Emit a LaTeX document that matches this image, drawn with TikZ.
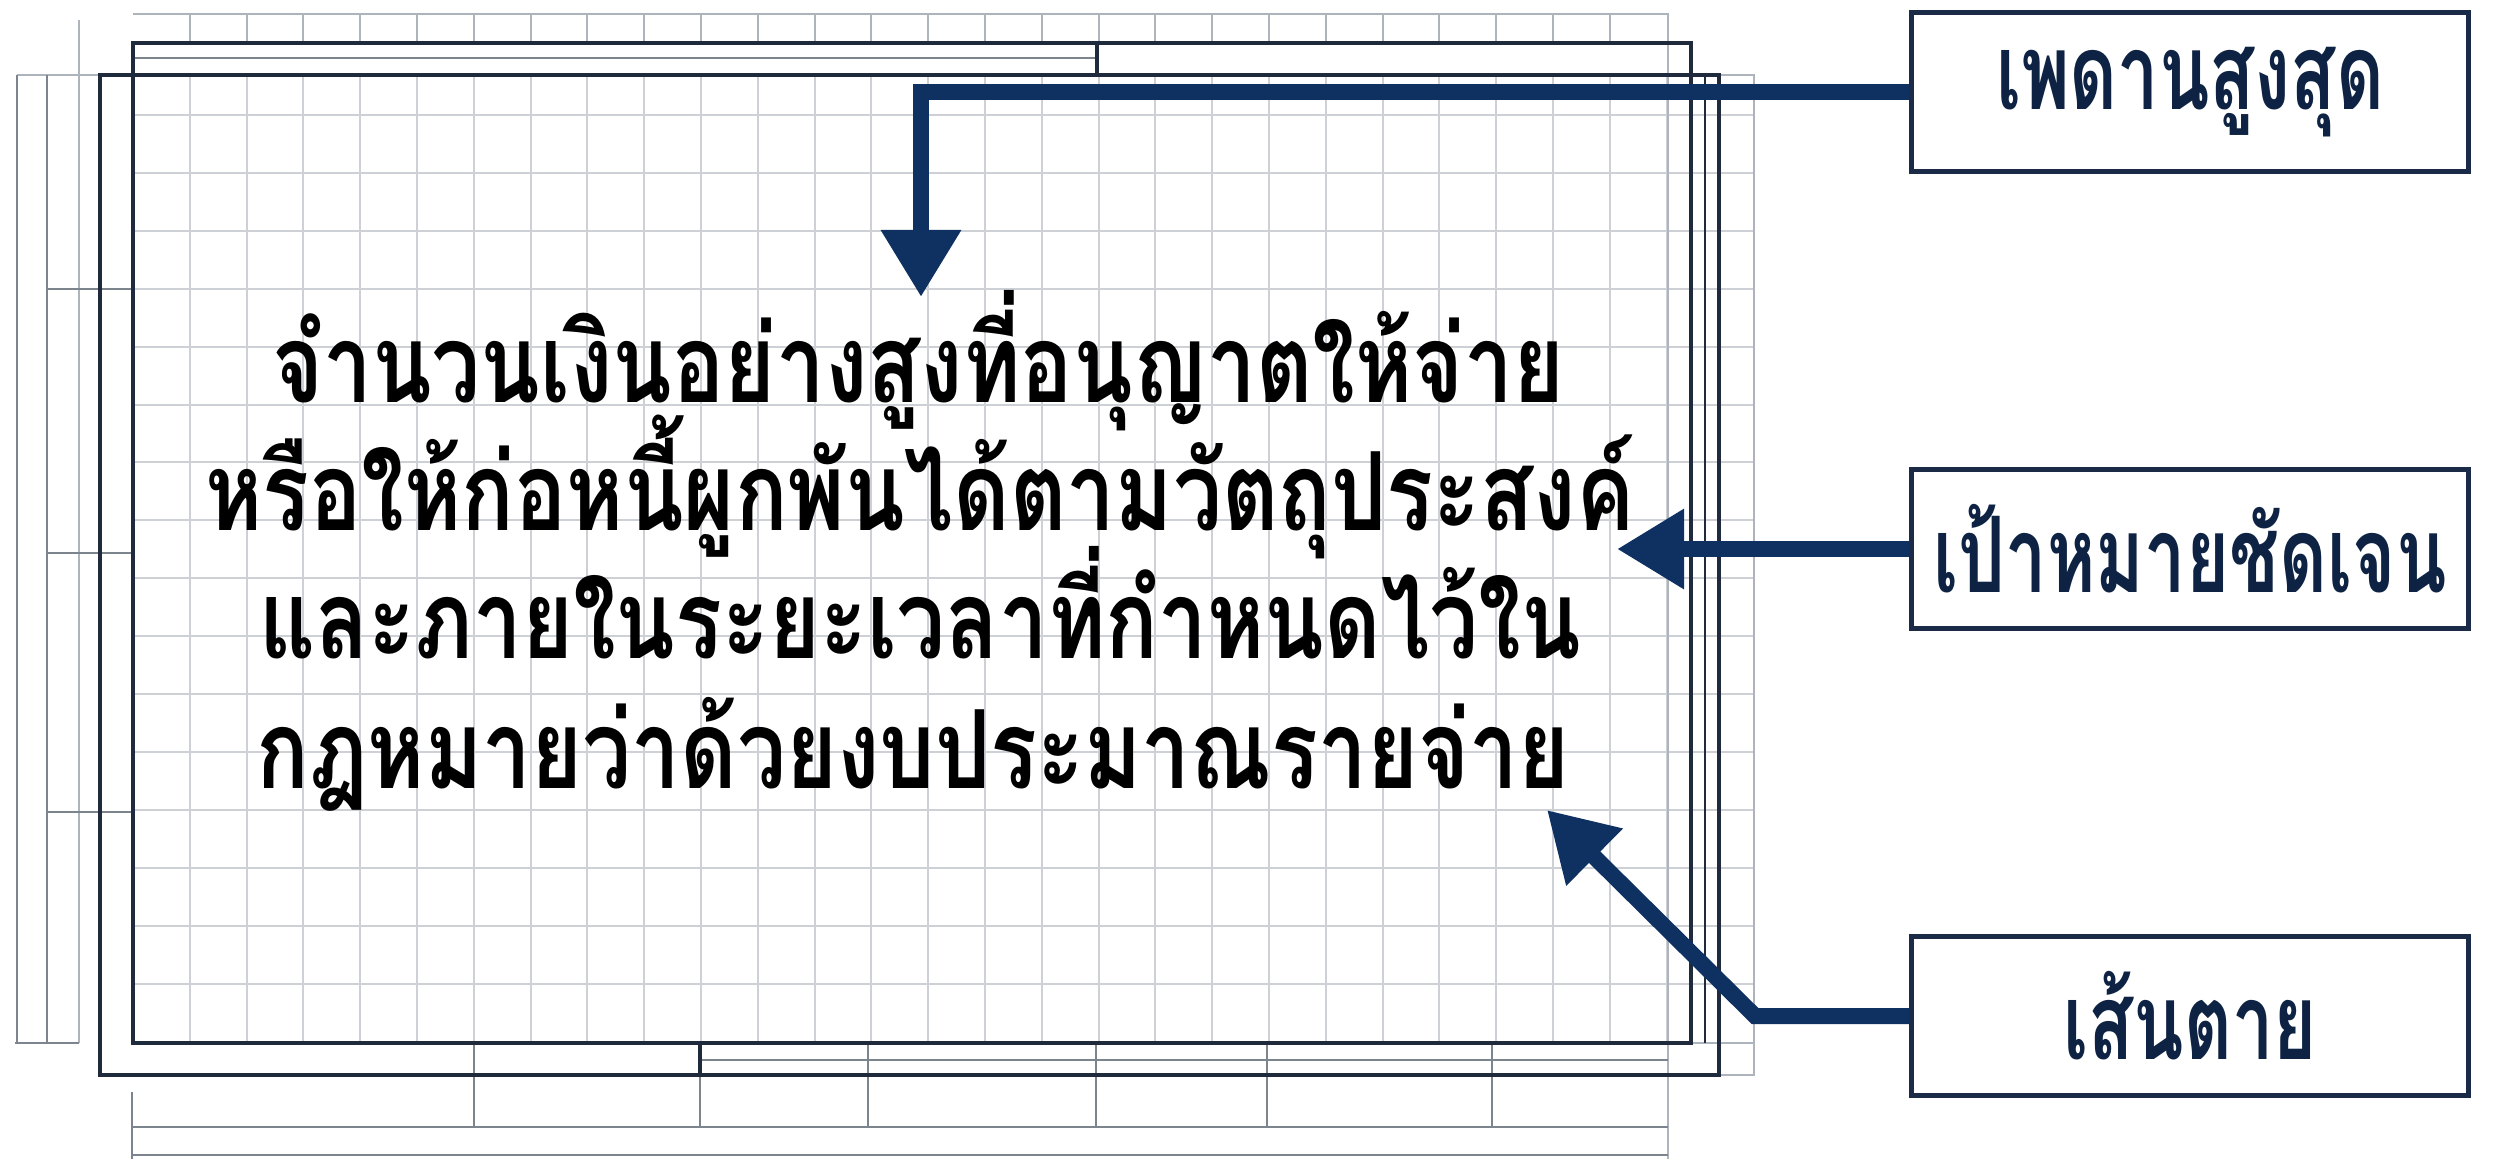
\documentclass[tikz,border=0pt]{standalone}
\usepackage{fontspec}
\newfontfamily\thaifont[Script=Thai,FakeStretch=0.80]{Loma}
\newfontfamily\thaitag[Script=Thai,FakeStretch=0.70]{Loma}
\usetikzlibrary{arrows.meta}
\definecolor{navy}{HTML}{0F3161}
\definecolor{framedark}{HTML}{1F2B3D}
\definecolor{framemid}{HTML}{7C848E}
\definecolor{framelight}{HTML}{AEB4BC}
\definecolor{gridc}{HTML}{CDD1D6}
\definecolor{boxline}{HTML}{1B2B47}
\definecolor{boxtext}{HTML}{0E2343}
\begin{document}
\begin{tikzpicture}[x=0.01cm,y=-0.01cm,
  darkln/.style={draw=framedark, line width=0.035cm},
  midln/.style={draw=framemid, line width=0.025cm},
  lightln/.style={draw=framelight, line width=0.02cm},
  gridln/.style={draw=gridc, line width=0.02cm},
  tagbox/.style={draw=boxline, line width=0.05cm, fill=white, minimum width=5.56cm, minimum height=1.58cm, inner sep=0pt, font=\thaitag\bfseries\fontsize{30}{36}\selectfont, text=boxtext},
  maintext/.style={anchor=base, inner sep=0pt, font=\thaifont\bfseries\fontsize{31}{36}\selectfont, text=black},
  arr/.style={draw=navy, line width=0.16cm, -{Triangle[width=0.76cm,length=0.67cm]}, line join=miter}
]
\useasboundingbox (0,0) rectangle (2520,1159);
% grid
\foreach \k in {1,...,27} {
  \draw[gridln] ({133+56.8*\k},75) -- ({133+56.8*\k},1043);
}
\foreach \k in {1,...,26} {
  \draw[lightln] ({133+56.8*\k},14) -- ({133+56.8*\k},43);
}
\foreach \j in {0,...,15} {
  \draw[gridln] (133,{115+57.9*\j}) -- (1754,{115+57.9*\j});
}
% light outer lines
\draw[lightln] (133,14) -- (1668,14) -- (1668,1159);
\draw[lightln] (1719,75) -- (1754,75) -- (1754,1075) -- (1719,1075);
\draw[lightln] (1691,1043) -- (1754,1043);
\draw[lightln] (79,20) -- (79,1043);
\draw[lightln] (17,75) -- (100,75);
\draw[midln] (17,75) -- (17,1043);
\draw[midln] (47,75) -- (47,1043);
\draw[midln] (15,1043) -- (79,1043);
\foreach \yy in {289,553,812} { \draw[midln] (47,\yy) -- (133,\yy); }
% gray steps
\draw[midln] (133,58) -- (1097,58);
\draw[midln] (700,1060) -- (1668,1060);
\draw[framedark, line width=0.018cm] (1705,75) -- (1705,1043);
% bottom band
\foreach \xx in {474,700,868,1096,1267,1492} { \draw[midln] (\xx,1043) -- (\xx,1127); }
\draw[midln] (132,1127) -- (1668,1127);
\draw[midln] (132,1155) -- (1668,1155);
\draw[midln] (132,1092) -- (132,1159);
% dark rectangles
\draw[darkln] (133,43) rectangle (1691,1043);
\draw[darkln] (100,75) rectangle (1719,1075);
\draw[darkln] (1097,43) -- (1097,75);
\draw[darkln] (700,1043) -- (700,1075);
% main text
\node[maintext] (t1) at (918,402) {จำนวนเงินอย่างสูงที่อนุญาตให้จ่าย};
\node[maintext] (t2) at (920,530) {หรือให้ก่อหนี้ผูกพันได้ตามวัตถุประสงค์};
\node[maintext] (t3) at (920,658) {และภายในระยะเวลาที่กำหนดไว้ใน};
\node[maintext] (t4) at (913,788) {กฎหมายว่าด้วยงบประมาณรายจ่าย};
% label boxes
\node[tagbox] (b1) at (2190,92) {เพดานสูงสุด};
\node[tagbox] (b2) at (2190,549) {เป้าหมายชัดเจน};
\node[tagbox] (b3) at (2190,1016) {เส้นตาย};
% arrows
\coordinate (tipA) at (921,297);
\coordinate (tipB) at (1617,549);
\coordinate (elbowC) at (1755,1016);
\coordinate (tipC) at (1547,810);
\draw[arr] (b1.west) -| (tipA);
\draw[arr] (b2.west) -- (tipB);
\draw[arr] (b3.west) -- (elbowC) -- (tipC);
% redraw boxes on top of arrow starts
\node[tagbox] at (b1) {เพดานสูงสุด};
\node[tagbox] at (b2) {เป้าหมายชัดเจน};
\node[tagbox] at (b3) {เส้นตาย};
\end{tikzpicture}
\end{document}
